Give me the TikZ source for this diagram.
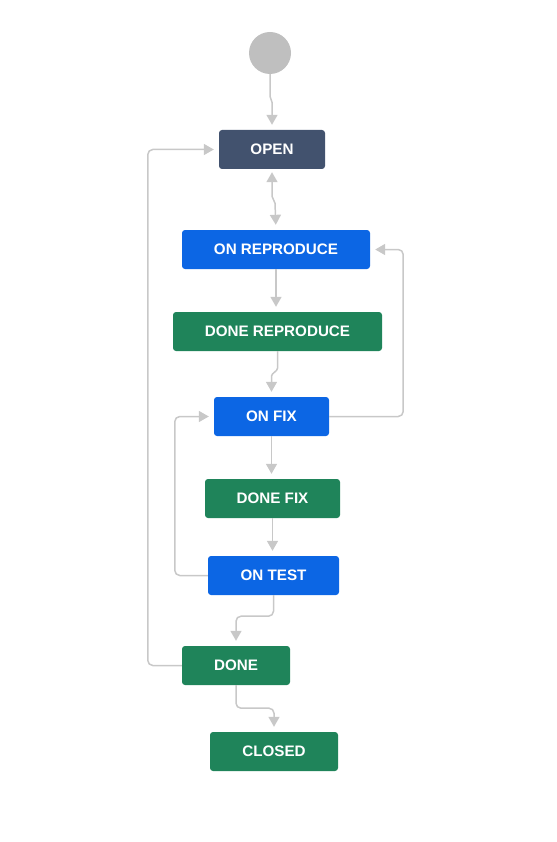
\documentclass[tikz,border=0pt]{standalone}
\usepackage{fontspec}
\setmainfont{Liberation Sans}
\usetikzlibrary{arrows.meta}
\definecolor{opencol}{HTML}{42526E}
\definecolor{progcol}{HTML}{0C66E4}
\definecolor{donecol}{HTML}{1F845A}
\definecolor{linkcol}{HTML}{C8C8C8}
\definecolor{startcol}{HTML}{BFBFBF}
\tikzset{
  state/.style={rounded corners=3pt, minimum height=39pt, inner sep=0pt,
    text=white, font=\fontsize{15.2}{17}\selectfont\bfseries},
  todo/.style={state, fill=opencol},
  inprog/.style={state, fill=progcol},
  finished/.style={state, fill=donecol},
  tip/.tip={Triangle[width=11pt,length=10pt]},
  conn/.style={draw=linkcol, line width=1.5pt, -tip, shorten >=5pt},
  loop/.style={conn, rounded corners=5pt},
  jog/.style={out=-90, in=90, looseness=0.8}
}
\begin{document}
\begin{tikzpicture}[x=1pt, y=-1pt]
  \useasboundingbox (0,0) rectangle (556,842);

  % start marker and workflow states
  \node[circle, fill=startcol, minimum size=42pt, inner sep=0pt] (start) at (270,53) {};
  \node[todo, minimum width=106pt] (open) at (272,149.5) {OPEN};
  \node[inprog, minimum width=188pt] (onrep) at (276,249.5) {ON REPRODUCE};
  \node[finished, minimum width=209pt] (donerep) at (277.5,331.5) {DONE REPRODUCE};
  \node[inprog, minimum width=115pt] (onfix) at (271.5,416.5) {ON FIX};
  \node[finished, minimum width=135pt] (donefix) at (272.5,498.5) {DONE FIX};
  \node[inprog, minimum width=131pt] (ontest) at (273.5,575.5) {ON TEST};
  \node[finished, minimum width=108pt] (done) at (236,665.5) {DONE};
  \node[finished, minimum width=128pt] (closed) at (274,751.5) {CLOSED};

  % transitions
  \draw[conn] (start.south) -- ++(0,22) to[jog] ++(2,6) -- (open.north);
  \draw[conn, tip-tip, shorten <=3pt]
    (open.south) -- ++(0,27) to[jog] ++(3,7) -- (onrep.north);
  \draw[conn] (onrep.south) -- (onrep.south |- donerep.north);
  \draw[conn] (donerep.south) -- ++(0,17) to[jog] ++(-6,8) -- (onfix.north);
  \draw[loop] (onfix.east) -- ++(74,0) |- (onrep.east);
  \draw[conn] (onfix.south) -- (onfix.south |- donefix.north);
  \draw[conn] (donefix.south) -- (donefix.south |- ontest.north);
  \draw[loop] (ontest.west) -- ++(-33,0) |- (onfix.west);
  \draw[loop] (ontest.south) -- ++(0,21) -| (done.north);
  \draw[loop] (done.west) -- ++(-34,0) |- (open.west);
  \draw[loop] (done.south) -- ++(0,23) -| (closed.north);
\end{tikzpicture}
\end{document}
